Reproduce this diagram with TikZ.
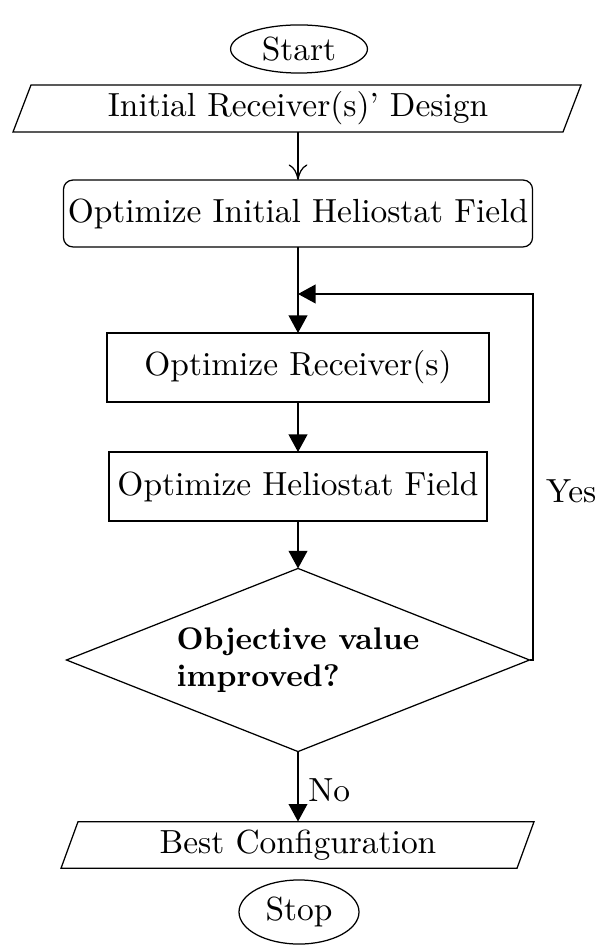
\documentclass[tikz,border=0pt]{standalone}
\usetikzlibrary{shapes.geometric,arrows.meta}
\begin{document}
\begin{tikzpicture}[x=0.32pt,y=-0.32pt, line width=0.4pt,
  every node/.style={inner sep=0pt, outer sep=0pt, font=\fontsize{10.7}{13}\selectfont},
  term/.style={ellipse, draw},
  proc/.style={draw, rectangle, minimum height=22.08pt},
  arr/.style={-{Triangle[length=5.6pt,width=6pt]}},
  thinarr/.style={-{Computer Modern Rightarrow[length=5pt,width=6pt]}}]
\useasboundingbox (0,0) rectangle (597,947);

\node[term, minimum width=43.8pt, minimum height=15.4pt] (start) at (299,49) {Start};

\node[minimum height=15.04pt] (in) at (298,108.5) {Initial Receiver(s)' Design};
\draw (13,132) -- (31,85) -- (581,85) -- (563,132) -- cycle;

\node[draw, rounded corners=3pt, minimum width=150.1pt, minimum height=21.4pt] (oihf) at (298,213.5) {Optimize Initial Heliostat Field};

\coordinate (j) at (298,294);

\node[proc, minimum width=122.24pt] (or) at (298,367.5) {Optimize Receiver(s)};
\node[proc, minimum width=120.96pt] (ohf) at (298,486.5) {Optimize Heliostat Field};

\node[diamond, draw, aspect=2.5, minimum width=148.2pt, minimum height=58.6pt, align=left, font=\normalsize\bfseries] (dec) at (298,660) {Objective value\\improved?};

\node[minimum height=15.04pt] (out) at (298,845) {Best Configuration};
\draw (61,868.3) -- (78,821.7) -- (534,821.7) -- (517,868.3) -- cycle;

\node[term, minimum width=38.4pt, minimum height=20.5pt] (stop) at (299,912) {Stop};

\draw[thinarr] (in.south) -- (oihf.north);
\draw (oihf.south) -- (j);
\draw[arr] (j) -- (or.north);
\draw[arr] (or.south) -- (ohf.north);
\draw[arr] (ohf.south) -- (dec.north);
\coordinate (rc) at (533,660);
\draw[arr] (dec.east) -- (rc) |- (j);
\node[anchor=west] (yes) at (546,491) {Yes};
\draw[arr] (dec.south) -- (out.north) node[pos=0.55, anchor=west, xshift=3.3pt] (no) {No};
\end{tikzpicture}
\end{document}
